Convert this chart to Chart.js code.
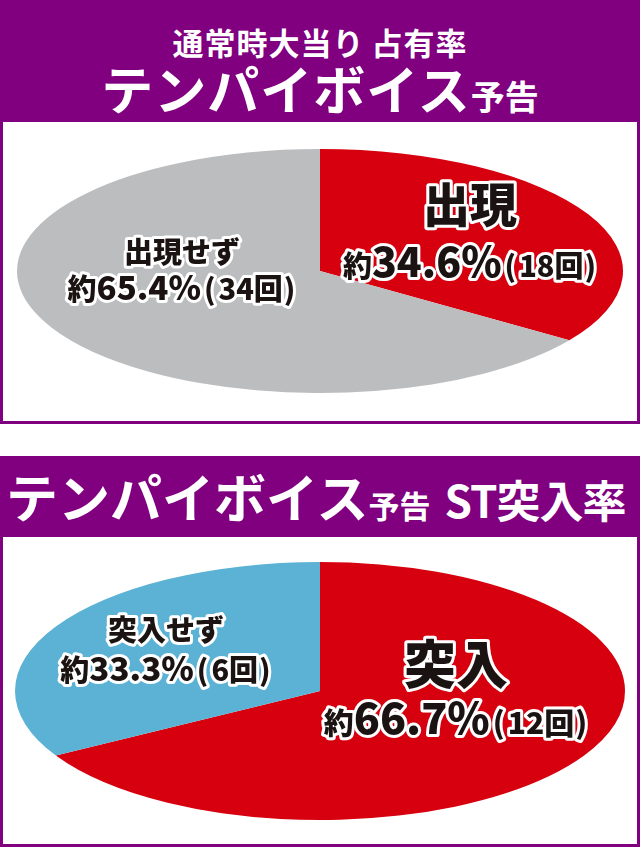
<!DOCTYPE html>
<html>
<head>
<meta charset="utf-8">
<script src="https://cdn.jsdelivr.net/npm/chart.js@4"></script>
<style>
  body { margin: 0; width: 640px; height: 847px; background: #fff; overflow: hidden;
         font-family: "Noto Sans CJK JP", "Noto Sans", sans-serif; }
  .panel { position: absolute; left: 0; width: 640px; background: #800080; }
  .box { position: absolute; left: 3px; width: 634px; background: #fff; }
  .head { position: absolute; left: 0; width: 640px; color: #fff; font-weight: 700; white-space: nowrap; }
  .head span { display: inline-block; }
  canvas { display: block; }
</style>
</head>
<body>

<div class="panel" style="top:0; height:424px;">
  <div class="head" style="top:24px; font-size:31px; line-height:36px; text-align:center; letter-spacing:1px;">通常時大当り&thinsp;占有率</div>
  <div class="head" style="top:60px; font-size:52px; line-height:56px; text-align:center; letter-spacing:1px;">テンパイボイス<span style="font-size:34px; letter-spacing:0;">予告</span></div>
  <div class="box" style="top:122px; height:299px;"><canvas id="chart1" width="634" height="299"></canvas></div>
</div>

<div class="panel" style="top:456px; height:391px;">
  <div class="head" style="top:12px; left:6px; font-size:52px; line-height:56px;">テンパイボイス<span style="font-size:31px;">予告</span><span style="font-size:44px; margin-left:14px; letter-spacing:-1px;">ST突入率</span></div>
  <div class="box" style="top:81px; height:307px;"><canvas id="chart2" width="634" height="307"></canvas></div>
</div>

<script>
// DATOS DE LA PRIMERA GRAFICA (通常時大当り占有率)
const chart1Labels = ['出現', '出現せず'];
const chart1Counts = [18, 34];
const chart1Percent = ['34.6', '65.4'];
const chart1Colors = ['#d7000f', '#bcbdbf'];

// DATOS DE LA SEGUNDA GRAFICA (ST突入率)
const chart2Labels = ['突入', '突入せず'];
const chart2Counts = [12, 6];
const chart2Percent = ['66.7', '33.3'];
const chart2Colors = ['#d7000f', '#5bb2d5'];

const FONT = '"Noto Sans CJK JP", "Noto Sans", sans-serif';

// ESTIRAR EL PASTEL PARA QUE QUEDE COMO ELIPSE
const stretchPlugin = {
    id: 'stretch',
    beforeDatasetsDraw(chart, args, opts) {
        const arc = chart.getDatasetMeta(0).data[0];
        const sx = opts.radiusX / arc.outerRadius;
        const ctx = chart.ctx;
        ctx.save();
        ctx.translate(arc.x, arc.y);
        ctx.scale(sx, 1);
        ctx.translate(-arc.x, -arc.y);
    },
    afterDatasetsDraw(chart) {
        chart.ctx.restore();
    }
};

// dibuja un renglon con varios tamaños de letra, centrado
function drawRun(ctx, segs, cx, cy) {
    let total = 0;
    let maxSize = 0;
    segs.forEach(s => {
        ctx.font = '900 ' + s.size + 'px ' + FONT;
        s.w = ctx.measureText(s.t).width + (s.gap || 0);
        total += s.w;
        maxSize = Math.max(maxSize, s.size);
    });
    let x = cx - total / 2;
    const base = cy + maxSize * 0.36;
    ctx.textAlign = 'left';
    ctx.textBaseline = 'alphabetic';
    ctx.lineJoin = 'round';
    segs.forEach(s => {
        ctx.font = '900 ' + s.size + 'px ' + FONT;
        ctx.lineWidth = 6;
        ctx.strokeStyle = '#fff';
        ctx.strokeText(s.t, x + (s.gap || 0) / 2, base);
        ctx.fillStyle = '#1a1311';
        ctx.fillText(s.t, x + (s.gap || 0) / 2, base);
        x += s.w;
    });
}

// ETIQUETAS DE CADA REBANADA
const labelPlugin = {
    id: 'sliceLabels',
    afterDraw(chart, args, opts) {
        const arc = chart.getDatasetMeta(0).data[0];
        const ctx = chart.ctx;
        const names = chart.data.labels;
        opts.items.forEach((it, i) => {
            const pct = opts.percent[i];
            const cnt = chart.data.datasets[0].data[i];
            ctx.save();
            drawRun(ctx, [{ t: names[i], size: it.nameSize }], arc.x + it.dx, arc.y + it.dy1);
            drawRun(ctx, [
                { t: '約', size: it.smallSize },
                { t: pct + '%', size: it.numSize },
                { t: '(', size: it.smallSize, gap: 6 },
                { t: cnt + '回', size: it.smallSize },
                { t: ')', size: it.smallSize, gap: 2 }
            ], arc.x + it.dx, arc.y + it.dy2);
            ctx.restore();
        });
    }
};

function mostrarGrafica(id, labels, counts, percent, colors, padding, radiusX, items) {
    const ctx = document.getElementById(id).getContext('2d');
    return new Chart(ctx, {
        type: 'pie',
        data: {
            labels: labels,
            datasets: [{
                data: counts,
                backgroundColor: colors,
                borderWidth: 0
            }]
        },
        options: {
            responsive: false,
            animation: false,
            layout: { padding: padding },
            plugins: {
                legend: { display: false },
                tooltip: { enabled: false },
                stretch: { radiusX: radiusX },
                sliceLabels: { percent: percent, items: items }
            }
        },
        plugins: [stretchPlugin, labelPlugin]
    });
}

mostrarGrafica('chart1', chart1Labels, chart1Counts, chart1Percent, chart1Colors,
    { top: 27, bottom: 28 }, 303, [
        { dx: 150, dy1: -66, dy2: -9, nameSize: 47, smallSize: 29, numSize: 41 },
        { dx: -138, dy1: -18, dy2: 17, nameSize: 29, smallSize: 29, numSize: 33 }
    ]);

mostrarGrafica('chart2', chart2Labels, chart2Counts, chart2Percent, chart2Colors,
    { top: 25, bottom: 24 }, 305, [
        { dx: 136, dy1: -26, dy2: 28, nameSize: 52, smallSize: 30, numSize: 43 },
        { dx: -154, dy1: -60, dy2: -22, nameSize: 29, smallSize: 29, numSize: 33 }
    ]);
</script>
</body>
</html>
